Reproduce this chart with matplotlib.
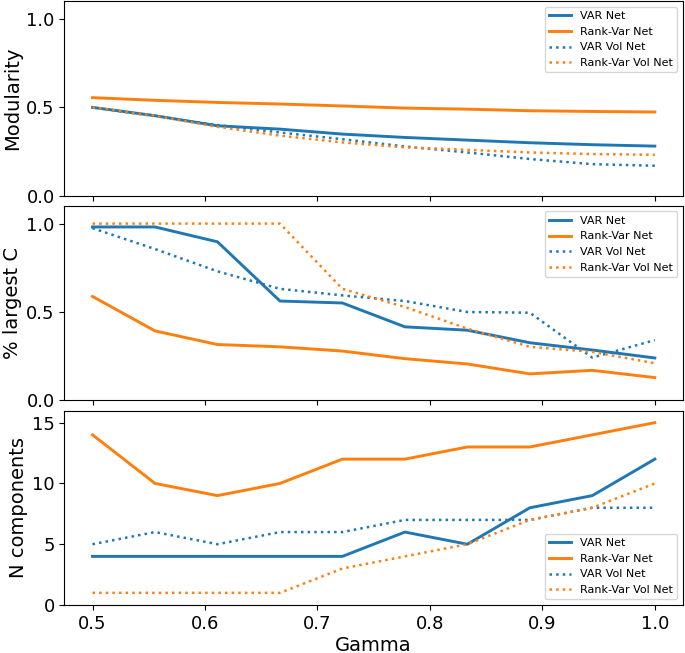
import matplotlib
matplotlib.use("Agg")
import matplotlib.pyplot as plt
import numpy as np

gamma = [0.5, 0.5556, 0.6111, 0.6667, 0.7222, 0.7778, 0.8333, 0.8889, 0.9444, 1.0]
labels = ["VAR Net", "Rank-Var Net", "VAR Vol Net", "Rank-Var Vol Net"]

# Modularity
mod_var = [0.50, 0.453, 0.396, 0.377, 0.349, 0.330, 0.315, 0.300, 0.289, 0.281]
mod_rank = [0.555, 0.540, 0.528, 0.519, 0.508, 0.496, 0.490, 0.481, 0.477, 0.474]
mod_var_vol = [0.50, 0.450, 0.400, 0.358, 0.320, 0.279, 0.245, 0.208, 0.179, 0.170]
mod_rank_vol = [0.50, 0.453, 0.390, 0.340, 0.302, 0.274, 0.260, 0.245, 0.236, 0.232]

# % largest component
lc_var = [0.981, 0.981, 0.897, 0.562, 0.551, 0.416, 0.397, 0.326, 0.285, 0.240]
lc_rank = [0.588, 0.393, 0.316, 0.303, 0.279, 0.236, 0.206, 0.150, 0.170, 0.129]
lc_var_vol = [0.974, 0.856, 0.730, 0.631, 0.594, 0.562, 0.500, 0.496, 0.242, 0.341]
lc_rank_vol = [1.0, 1.0, 1.0, 1.0, 0.631, 0.528, 0.406, 0.303, 0.275, 0.210]

# number of components
nc_var = [4, 4, 4, 4, 4, 6, 5, 8, 9, 12]
nc_rank = [14, 10, 9, 10, 12, 12, 13, 13, 14, 15]
nc_var_vol = [5, 6, 5, 6, 6, 7, 7, 7, 8, 8]
nc_rank_vol = [1, 1, 1, 1, 3, 4, 5, 7, 8, 10]

blue = "#1f77b4"
orange = "#ff7f0e"

fig, axes = plt.subplots(3, 1, sharex=True, figsize=(6.85, 6.53), dpi=100)
fig.subplots_adjust(left=0.094, right=0.997, bottom=0.0735, top=0.998, hspace=0.052)

panels = [
    (axes[0], [mod_var, mod_rank, mod_var_vol, mod_rank_vol], "Modularity", (0, 1.1), [0.0, 0.5, 1.0], "upper right"),
    (axes[1], [lc_var, lc_rank, lc_var_vol, lc_rank_vol], "% largest C", (0, 1.1), [0.0, 0.5, 1.0], "upper right"),
    (axes[2], [nc_var, nc_rank, nc_var_vol, nc_rank_vol], "N components", (0, 16), [0, 5, 10, 15], "lower right"),
]

for ax, series, ylabel, ylim, yticks, loc in panels:
    styles = [(blue, "-"), (orange, "-"), (blue, ":"), (orange, ":")]
    for vals, lab, (col, ls) in zip(series, labels, styles):
        ax.plot(gamma, vals, color=col, linestyle=ls, linewidth=2.1 if ls == "-" else 1.8, label=lab)
    ax.set_ylim(*ylim)
    ax.set_yticks(yticks)
    ax.set_ylabel(ylabel, fontsize=14, labelpad=3)
    ax.tick_params(axis="both", labelsize=13)
    ax.legend(loc=loc, fontsize=8)

axes[2].set_xticks([0.5, 0.6, 0.7, 0.8, 0.9, 1.0])
axes[2].set_xlabel("Gamma", fontsize=14, labelpad=2)

fig.savefig("out.png", dpi=100)
